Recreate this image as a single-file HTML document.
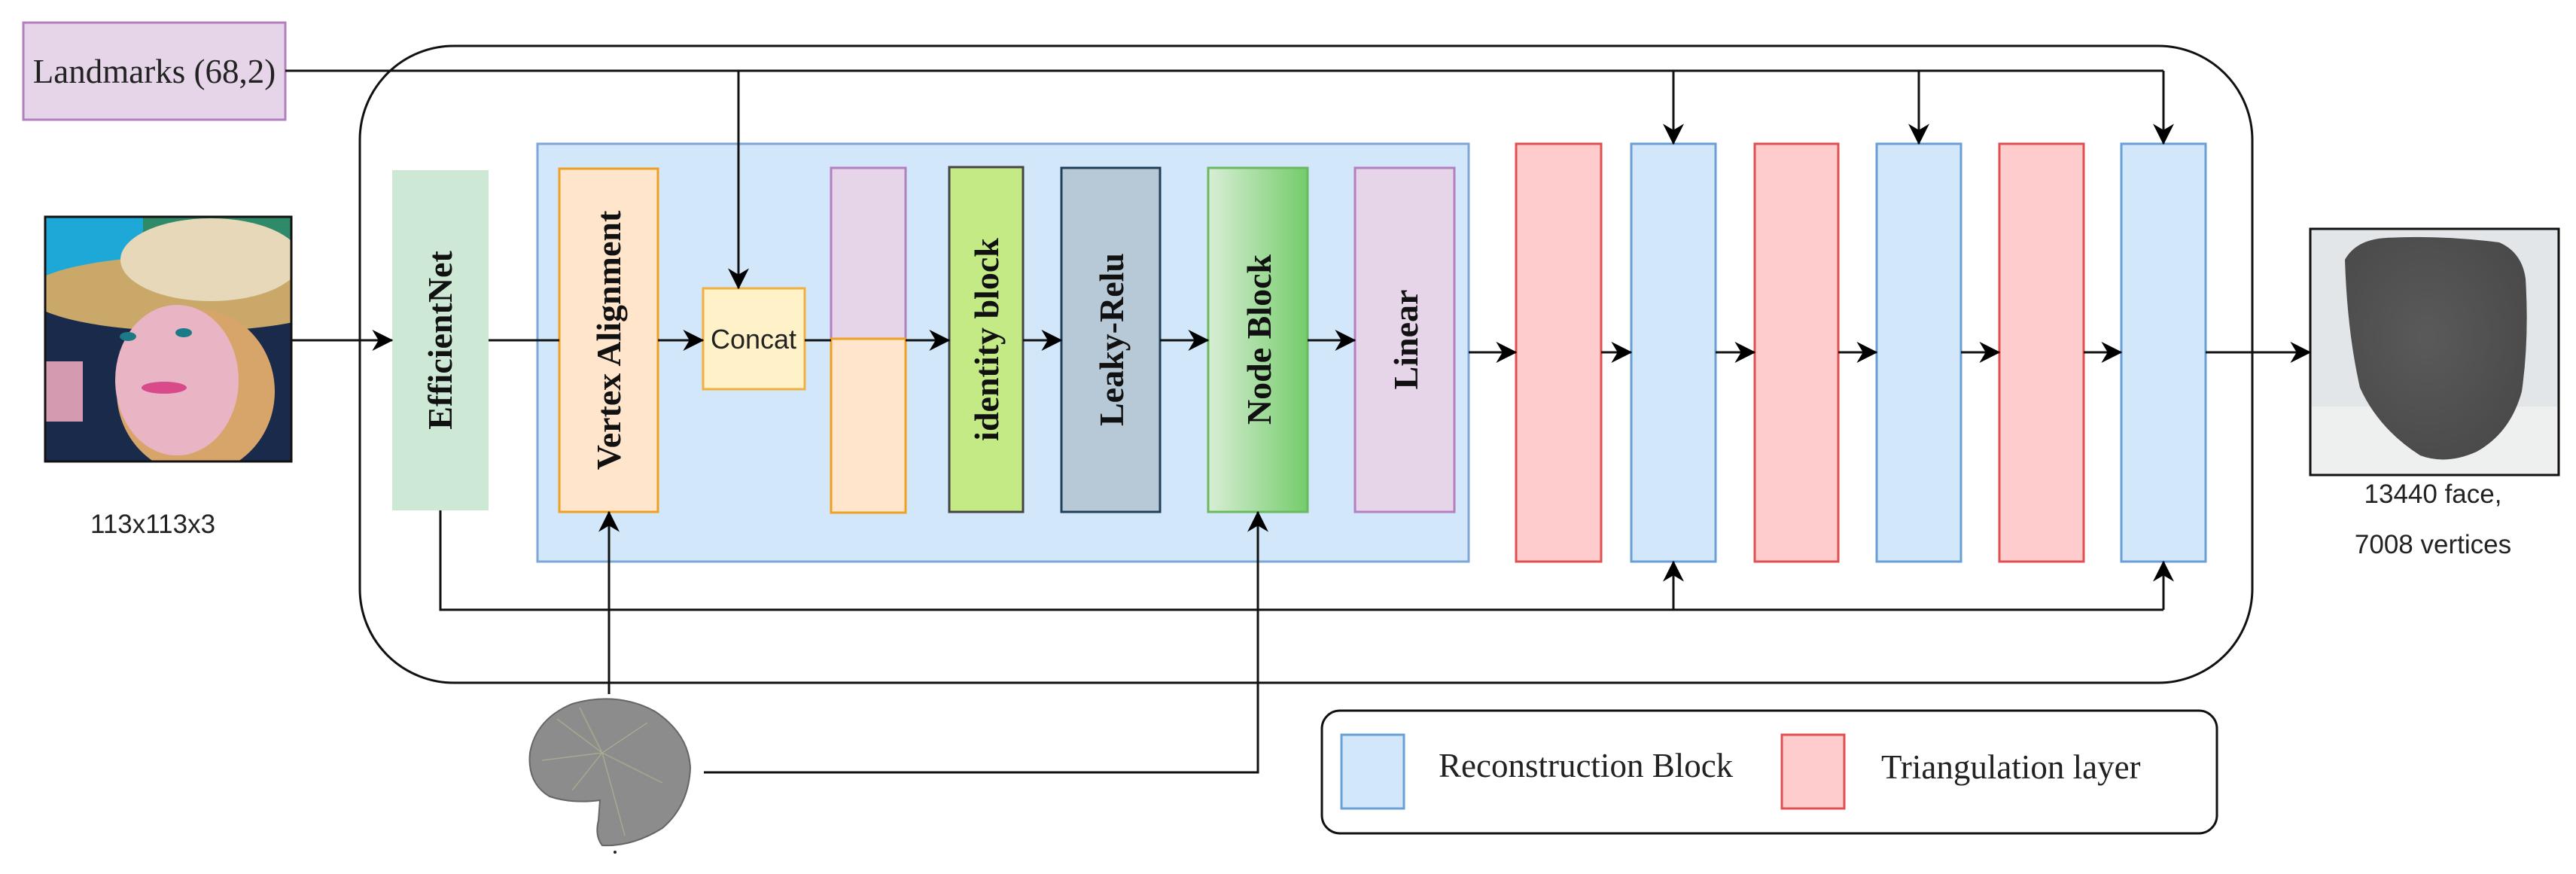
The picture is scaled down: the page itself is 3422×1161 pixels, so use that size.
<!DOCTYPE html>
<html><head><meta charset="utf-8"><style>
html,body{margin:0;padding:0;background:#fff;}
svg{display:block;}
.s{font-family:"Liberation Serif",serif;font-weight:bold;font-size:46px;fill:#111;}
.r{font-family:"Liberation Serif",serif;font-size:45px;fill:#222;}
.a{font-family:"Liberation Sans",sans-serif;font-size:35px;fill:#222;}
</style></head><body>
<svg width="3422" height="1161" viewBox="0 0 3422 1161" xmlns="http://www.w3.org/2000/svg">
<defs>
<marker id="ar" viewBox="0 0 20 20" refX="19" refY="10" markerWidth="28" markerHeight="28" markerUnits="userSpaceOnUse" orient="auto">
<path d="M0,0 L20,10 L0,20 L6,10 Z" fill="#000"/></marker>
<linearGradient id="ng" x1="0" x2="1" y1="0" y2="0"><stop offset="0" stop-color="#d8eed6"/><stop offset="1" stop-color="#74cc6a"/></linearGradient>
<radialGradient id="fg" cx="0.45" cy="0.45" r="0.6"><stop offset="0" stop-color="#5a5a5a"/><stop offset="1" stop-color="#4a4a4a"/></radialGradient>
<clipPath id="pc"><rect x="60" y="288" width="327" height="325"/></clipPath>
</defs>

<rect x="478" y="61" width="2514" height="846" rx="125" ry="125" fill="none" stroke="#111" stroke-width="3"/>

<rect x="31" y="30" width="348" height="129" fill="#e6d5e8" stroke="#b27fc0" stroke-width="3"/>
<text class="r" x="205" y="110" text-anchor="middle">Landmarks (68,2)</text>

<g clip-path="url(#pc)">
<rect x="60" y="288" width="327" height="325" fill="#1a2a4a"/>
<rect x="60" y="288" width="130" height="110" fill="#1da8d8"/>
<rect x="190" y="288" width="197" height="40" fill="#2f8a6a"/>
<ellipse cx="250" cy="390" rx="215" ry="50" fill="#c9a86a"/>
<ellipse cx="280" cy="345" rx="120" ry="55" fill="#e6d8b8"/>
<ellipse cx="260" cy="520" rx="105" ry="110" fill="#d7a56a"/>
<ellipse cx="235" cy="505" rx="82" ry="100" fill="#e9b4c4"/>
<rect x="60" y="480" width="50" height="80" fill="#d49ab0"/>
<ellipse cx="170" cy="447" rx="11" ry="6" fill="#1b7a86"/>
<ellipse cx="244" cy="442" rx="11" ry="6" fill="#1b7a86"/>
<ellipse cx="218" cy="515" rx="30" ry="8" fill="#d84a8a"/>
</g>
<rect x="60" y="288" width="327" height="325" fill="none" stroke="#111" stroke-width="3"/>
<text class="a" x="203" y="708" text-anchor="middle">113x113x3</text>

<rect x="714" y="191" width="1237" height="555" fill="#d3e7fb" stroke="#7ea6d6" stroke-width="3"/>

<rect x="521" y="226" width="128" height="452" fill="#cde9d6"/>
<text class="s" transform="translate(600,452) rotate(-90)" text-anchor="middle">EfficientNet</text>

<rect x="743" y="224" width="131" height="456" fill="#ffe5cc" stroke="#f0a020" stroke-width="3"/>
<text class="s" transform="translate(824,452) rotate(-90)" text-anchor="middle">Vertex Alignment</text>

<rect x="934" y="383" width="135" height="134" fill="#fff1c8" stroke="#f0b040" stroke-width="3"/>
<text class="a" x="1001" y="463" text-anchor="middle" style="font-size:36px">Concat</text>

<rect x="1104" y="223" width="99" height="227" fill="#e6d5e8" stroke="#b27fc0" stroke-width="3"/>
<rect x="1104" y="450" width="99" height="231" fill="#ffe5cc" stroke="#f0a020" stroke-width="3"/>

<rect x="1261" y="222" width="98" height="458" fill="#c3ea85" stroke="#444" stroke-width="3"/>
<text class="s" transform="translate(1326,451) rotate(-90)" text-anchor="middle">identity block</text>

<rect x="1410" y="223" width="131" height="457" fill="#b7c9d6" stroke="#20405a" stroke-width="3"/>
<text class="s" transform="translate(1492,451) rotate(-90)" text-anchor="middle">Leaky-Relu</text>

<rect x="1605" y="223" width="132" height="457" fill="url(#ng)" stroke="#6ab860" stroke-width="3"/>
<text class="s" transform="translate(1688,451) rotate(-90)" text-anchor="middle">Node Block</text>

<rect x="1800" y="223" width="132" height="457" fill="#e6d5e8" stroke="#b27fc0" stroke-width="3"/>
<text class="s" transform="translate(1883,451) rotate(-90)" text-anchor="middle">Linear</text>

<rect x="2014" y="191" width="113" height="555" fill="#fecccc" stroke="#e05050" stroke-width="3"/>
<rect x="2167" y="191" width="112" height="555" fill="#d3e7fb" stroke="#6a9fd6" stroke-width="3"/>
<rect x="2331" y="191" width="111" height="555" fill="#fecccc" stroke="#e05050" stroke-width="3"/>
<rect x="2493" y="191" width="112" height="555" fill="#d3e7fb" stroke="#6a9fd6" stroke-width="3"/>
<rect x="2656" y="191" width="112" height="555" fill="#fecccc" stroke="#e05050" stroke-width="3"/>
<rect x="2818" y="191" width="112" height="555" fill="#d3e7fb" stroke="#6a9fd6" stroke-width="3"/>

<rect x="3069" y="304" width="330" height="327" fill="#e3e6e8" stroke="#111" stroke-width="3"/>
<rect x="3071" y="540" width="326" height="89" fill="#eef0f0"/>
<path d="M3115,345 Q3130,318 3170,316 Q3240,312 3320,322 Q3350,335 3355,370 Q3360,450 3350,520 Q3335,575 3290,600 Q3250,618 3215,605 Q3160,570 3135,515 Q3118,440 3115,345 Z" fill="url(#fg)"/>
<text class="a" x="3232" y="668" text-anchor="middle">13440 face,</text>
<text class="a" x="3232" y="735" text-anchor="middle">7008 vertices</text>

<g>
<path d="M797,1063 Q760,1068 730,1058 Q700,1040 704,1000 Q712,955 760,935 Q820,918 870,945 Q915,975 917,1020 Q915,1070 880,1100 Q840,1125 800,1123 Q790,1110 795,1090 Z" fill="#8c8c8c" stroke="#666" stroke-width="2"/>
<path d="M740,955 L800,1000 L860,960 M720,1010 L800,1000 L880,1040 M800,1000 L830,1110 M760,1050 L800,1000 L770,940" stroke="#a8a890" stroke-width="1.5" fill="none"/>
<circle cx="817" cy="1132" r="2" fill="#222"/>
</g>

<g stroke="#111" stroke-width="3" fill="none">
<line x1="379" y1="94" x2="2874" y2="94"/>
<line x1="981" y1="94" x2="981" y2="383" marker-end="url(#ar)"/>
<line x1="2223" y1="94" x2="2223" y2="191" marker-end="url(#ar)"/>
<line x1="2549" y1="94" x2="2549" y2="191" marker-end="url(#ar)"/>
<line x1="2874" y1="94" x2="2874" y2="191" marker-end="url(#ar)"/>

<line x1="387" y1="452" x2="521" y2="452" marker-end="url(#ar)"/>
<line x1="649" y1="452" x2="743" y2="452"/>
<line x1="874" y1="452" x2="934" y2="452" marker-end="url(#ar)"/>
<line x1="1069" y1="452" x2="1104" y2="452"/>
<line x1="1203" y1="452" x2="1261" y2="452" marker-end="url(#ar)"/>
<line x1="1359" y1="452" x2="1410" y2="452" marker-end="url(#ar)"/>
<line x1="1541" y1="452" x2="1605" y2="452" marker-end="url(#ar)"/>
<line x1="1737" y1="452" x2="1800" y2="452" marker-end="url(#ar)"/>

<line x1="1951" y1="468" x2="2014" y2="468" marker-end="url(#ar)"/>
<line x1="2127" y1="468" x2="2167" y2="468" marker-end="url(#ar)"/>
<line x1="2279" y1="468" x2="2331" y2="468" marker-end="url(#ar)"/>
<line x1="2442" y1="468" x2="2493" y2="468" marker-end="url(#ar)"/>
<line x1="2605" y1="468" x2="2656" y2="468" marker-end="url(#ar)"/>
<line x1="2768" y1="468" x2="2818" y2="468" marker-end="url(#ar)"/>
<line x1="2930" y1="468" x2="3069" y2="468" marker-end="url(#ar)"/>

<polyline points="585,678 585,810 2874,810"/>
<line x1="2223" y1="810" x2="2223" y2="746" marker-end="url(#ar)"/>
<line x1="2874" y1="810" x2="2874" y2="746" marker-end="url(#ar)"/>

<line x1="809" y1="922" x2="809" y2="680" marker-end="url(#ar)"/>
<polyline points="935,1026 1671,1026 1671,680" marker-end="url(#ar)"/>
</g>

<rect x="1756" y="944" width="1189" height="163" rx="24" ry="24" fill="#fff" stroke="#111" stroke-width="3"/>
<rect x="1782" y="976" width="83" height="98" fill="#d3e7fb" stroke="#6a9fd6" stroke-width="3"/>
<text class="r" x="1911" y="1032">Reconstruction Block</text>
<rect x="2367" y="976" width="83" height="98" fill="#fecccc" stroke="#e05050" stroke-width="3"/>
<text class="r" x="2499" y="1034">Triangulation layer</text>
</svg>
</body></html>
